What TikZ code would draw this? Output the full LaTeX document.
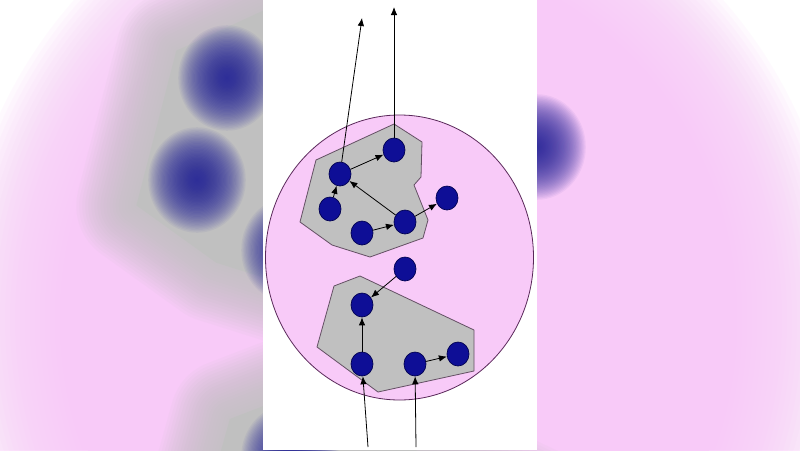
\documentclass[tikz,border=0pt]{standalone}
\usetikzlibrary{arrows.meta,shapes.geometric}
\definecolor{pinkc}{RGB}{248,202,248}
\definecolor{greyc}{RGB}{192,192,192}
\definecolor{bluec}{RGB}{14,14,150}
\definecolor{blobc}{RGB}{34,34,152}
\definecolor{blueline}{RGB}{0,0,80}
\definecolor{circline}{RGB}{90,40,90}
\definecolor{polyline}{RGB}{100,80,100}
\begin{document}
\begin{tikzpicture}[x=1pt,y=-1pt,
  dot/.style={ellipse, draw=blueline, fill=bluec, line width=0.7pt, minimum width=22pt, minimum height=24pt, inner sep=0pt},
  link/.style={-{Latex[length=8pt,width=6.5pt]}, line width=0.8pt, draw=black},
  region/.style={fill=greyc, draw=polyline, line width=0.8pt, line join=round},
  cell/.style={fill=pinkc, draw=circline, line width=0.8pt},
  haze/.style={opacity=0.1},
  fog/.style={greyc, opacity=0.08, line join=round}
]
\useasboundingbox (0,0) rectangle (800,450);
\clip (0,0) rectangle (800,450);
\fill[white] (0,0) rectangle (800,450);
% blurred enlarged background
\begin{scope}[shift={(400,225)}, scale=2.9, shift={(-400,-225)}]
  \fill[pinkc] (399.5,257.5) ellipse [x radius={134-55/2.9}, y radius={142.5-55/2.9}];
  \foreach \d in {-55,-50,...,55}
    \fill[pinkc, haze] (399.5,257.5) ellipse [x radius={134+\d/2.9}, y radius={142.5+\d/2.9}];
  \begin{scope}[shift={(365,195)}, scale=0.86, shift={(-365,-195)}]
    \foreach \w in {6,12,...,120}
      \draw[fog, line width=\w pt]
        (394,124) -- (422,142) -- (421,177) -- (414,185) -- (428,220) -- (423,238) -- (370,257) -- (332,245) -- (300,222) -- (316,160) -- cycle;
    \fill[greyc] (394,124) -- (422,142) -- (421,177) -- (414,185) -- (428,220) -- (423,238) -- (370,257) -- (332,245) -- (300,222) -- (316,160) -- cycle;
  \end{scope}
  \begin{scope}[shift={(395,335)}, scale=0.88, shift={(-395,-335)}]
    \foreach \w in {6,12,...,120}
      \draw[fog, line width=\w pt]
        (360,276) -- (474,330) -- (474,371) -- (378,392) -- (317,347) -- (334,286) -- cycle;
    \fill[greyc] (360,276) -- (474,330) -- (474,371) -- (378,392) -- (317,347) -- (334,286) -- cycle;
  \end{scope}
\end{scope}
\foreach \cx/\cy in {227/78, 197/180, 290/250, 290/457, 537/147, 383/8}
  \foreach \k in {1,...,40}
    \fill[blobc, opacity=0.05] (\cx,\cy) ellipse [x radius={1.22*\k}, y radius={1.32*\k}];
% central picture
\fill[white] (263,0) rectangle (537,450);
\draw[cell] (399.5,257.5) ellipse [x radius=134, y radius=142.5];
\draw[region] (394,124) -- (422,142) -- (421,177) -- (414,185) -- (428,220) -- (423,238) -- (370,257) -- (332,245) -- (300,222) -- (316,160) -- cycle;
\draw[region] (360,276) -- (474,330) -- (474,371) -- (378,392) -- (317,347) -- (334,286) -- cycle;
\node[dot] (A) at (394,150) {};
\node[dot] (B) at (340,174) {};
\node[dot] (C) at (330,209) {};
\node[dot] (D) at (362,233) {};
\node[dot] (E) at (405,222) {};
\node[dot] (F) at (447,198) {};
\node[dot] (G) at (405,269) {};
\node[dot] (H) at (362,305) {};
\node[dot] (I) at (362,364) {};
\node[dot] (J) at (415,364) {};
\node[dot] (K) at (458,354) {};
\coordinate (out1) at (362,18);
\coordinate (out2) at (394,7);
\coordinate (in1) at (368,447);
\coordinate (in2) at (416,447);
\draw[link] (B) -- (A);
\draw[link] (C) -- (B);
\draw[link] (E) -- (B);
\draw[link] (D) -- (E);
\draw[link] (E) -- (F);
\draw[link] (G) -- (H);
\draw[link] (I) -- (H);
\draw[link] (J) -- (K);
\draw[link] (in1) -- (I);
\draw[link] (in2) -- (J);
\draw[link] (B) -- (out1);
\draw[link] (A) -- (out2);
\end{tikzpicture}
\end{document}
